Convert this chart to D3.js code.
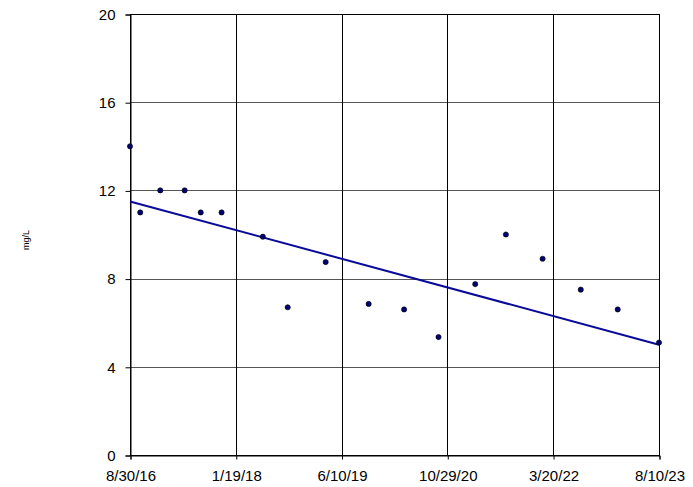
<!DOCTYPE html>
<html><head><meta charset="utf-8">
<script src="https://cdn.jsdelivr.net/npm/d3@7"></script>
<style>body{margin:0;background:#fff;} svg{display:block;font-family:"Liberation Sans",Arial,sans-serif;}</style>
</head><body>
<svg id="chart" width="693" height="487"></svg>
<script>
const sampleDates = ["2016-08-30","2016-10-18","2017-01-22","2017-05-19","2017-08-04","2017-11-12","2018-05-29","2018-09-25","2019-03-26","2019-10-18","2020-04-05","2020-09-17","2021-03-12","2021-08-06","2022-01-29","2022-07-31","2023-01-24","2023-08-10"];
const sampleValues = [14, 11, 12, 12, 11, 11, 9.9, 6.7, 8.75, 6.85, 6.6, 5.35, 7.75, 10, 8.9, 7.5, 6.6, 5.1];
const trendDates = ["2016-08-30","2023-08-10"];
const trendValues = [11.5, 5.0];
const xTickDates = ["2016-08-30","2018-01-19","2019-06-10","2020-10-29","2022-03-20","2023-08-10"];
const xTickLabels = ["8/30/16","1/19/18","6/10/19","10/29/20","3/20/22","8/10/23"];
const yTicks = [0, 4, 8, 12, 16, 20];
const yLabel = "mg/L";
const titleText = "(mg/L)";

const parse = d3.utcParse("%Y-%m-%d");
const svg = d3.select("#chart");
const m = {l:130, r:659, t:14, b:455};
const x = d3.scaleUtc().domain([parse(xTickDates[0]), parse(xTickDates[xTickDates.length-1])]).range([m.l, m.r]);
const y = d3.scaleLinear().domain([0, 20]).range([m.b, m.t]);

// title fragment (mostly clipped at top, as in the reference)
svg.append("text").attr("x", 471).attr("y", -3).attr("text-anchor","middle")
  .attr("font-size", 13).attr("fill", "#555").text(titleText);

// horizontal gridlines
svg.append("g").selectAll("line").data(yTicks.slice(1, -1)).join("line")
  .attr("x1", m.l).attr("x2", m.r).attr("y1", d => Math.round(y(d)) + 0.5).attr("y2", d => Math.round(y(d)) + 0.5)
  .attr("stroke", "#555").attr("stroke-width", 1);
// vertical gridlines
svg.append("g").selectAll("line").data(xTickDates.slice(1, -1)).join("line")
  .attr("x1", d => Math.round(x(parse(d))) + 0.5).attr("x2", d => Math.round(x(parse(d))) + 0.5)
  .attr("y1", m.t).attr("y2", m.b).attr("stroke", "#000").attr("stroke-width", 1);

// border
svg.append("rect").attr("x", m.l + 0.5).attr("y", m.t + 0.5).attr("width", m.r - m.l).attr("height", m.b - m.t)
  .attr("fill", "none").attr("stroke", "#000").attr("stroke-width", 1);

// axes
const yAxis = d3.axisLeft(y).tickValues(yTicks).tickSize(5).tickPadding(10).tickFormat(d3.format("d"));
const gy = svg.append("g").attr("transform", `translate(${m.l + 0.5},0.5)`).call(yAxis);
const xAxis = d3.axisBottom(x).tickValues(xTickDates.map(parse)).tickSize(4).tickPadding(11)
  .tickFormat((d, i) => xTickLabels[i]);
const gx = svg.append("g").attr("transform", `translate(0.5,${m.b + 0.5})`).call(xAxis);
[gx, gy].forEach(g => {
  g.select(".domain").attr("stroke", "#000");
  g.selectAll(".tick line").attr("stroke", "#000");
  g.selectAll("text").attr("font-size", 15).attr("fill", "#000").attr("font-family", '"Liberation Sans",Arial,sans-serif');
});

// y label
svg.append("text").attr("transform", "translate(29,240) rotate(-90)").attr("text-anchor", "middle")
  .attr("font-size", 9).attr("fill", "#000").text(yLabel);

// trend line
const line = d3.line().x(d => x(d[0])).y(d => y(d[1]));
svg.append("path").datum(trendDates.map((d, i) => [parse(d), trendValues[i]]))
  .attr("d", line).attr("fill", "none").attr("stroke", "#0a0a9a").attr("stroke-width", 2);

// points
svg.append("g").selectAll("circle").data(sampleDates.map((d, i) => [parse(d), sampleValues[i]])).join("circle")
  .attr("cx", d => x(d[0])).attr("cy", d => y(d[1])).attr("r", 2.6)
  .attr("fill", "#000070").attr("stroke", "#000").attr("stroke-width", 0.6);
</script>
</body></html>
